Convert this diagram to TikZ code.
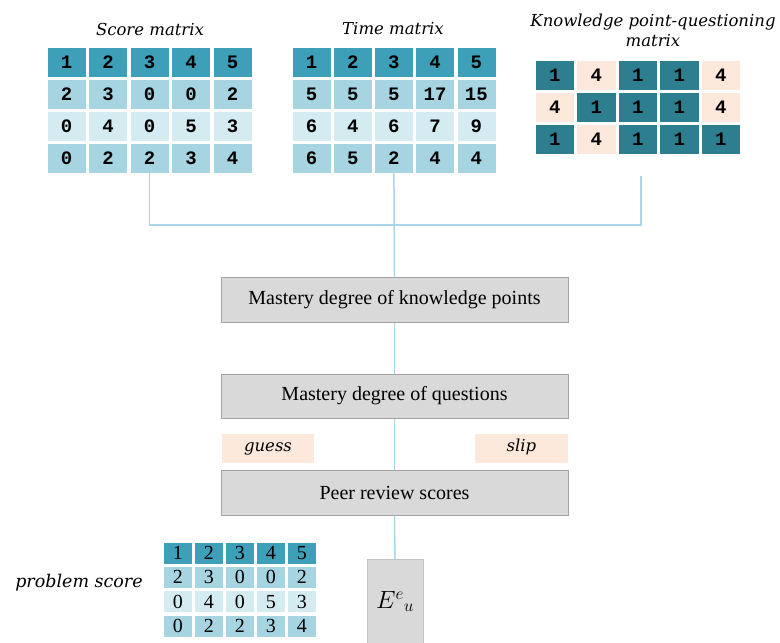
\documentclass[tikz,border=0pt]{standalone}
\usepackage{fontspec}
\setmainfont{Liberation Serif}
\newfontfamily\numfont{Liberation Mono}
\newfontfamily\capfont{DejaVu Serif}
\definecolor{hdr}{HTML}{3E9FB8}
\definecolor{rowA}{HTML}{A7D4E1}
\definecolor{rowB}{HTML}{D4EBF1}
\definecolor{kdark}{HTML}{2D7F8F}
\definecolor{peach}{HTML}{FCE9DC}
\definecolor{boxgray}{HTML}{D9D9D9}
\definecolor{boxedge}{HTML}{A3A3A3}
\definecolor{wire}{HTML}{A6D6E8}
\tikzset{
  cell/.style={inner sep=0pt, draw=white, line width=0.6pt},
  title/.style={font=\fontsize{16.5}{20}\selectfont\capfont\itshape, align=center},
  stage/.style={fill=boxgray, draw=boxedge, line width=1pt, minimum width=347pt,
                minimum height=45pt, inner sep=0pt, font=\fontsize{20}{23}\selectfont},
  tag/.style={fill=peach, minimum width=92pt, minimum height=29pt, inner sep=0pt,
              text height=0.72em, text depth=0.22em,
              font=\fontsize{16.5}{20}\selectfont\capfont\itshape},
  wireline/.style={draw=wire, line width=1.5pt}
}
% #1 prefix, #2 x0, #3 y0, #4 col pitch, #5 row pitch, #6 cell w, #7 cell h, #8 font, #9 rows (colour/{values})
\newcommand\gridtable[9]{%
  \foreach \fc/\vals [count=\r] in {#9} {
    \foreach \v [count=\c] in \vals {
      \pgfmathsetmacro\cx{#2+(\c-1)*#4+#6/2}
      \pgfmathsetmacro\cy{#3+(\r-1)*#5+#7/2}
      \node[cell, fill=\fc, minimum width=#6pt, minimum height=#7pt, font=#8]
        (#1-\r-\c) at (\cx,\cy) {\v};
    }
  }
}
% knowledge-point matrix: value 1 is dark, value 4 is peach
\newcommand\kptable[1]{%
  \foreach \vals [count=\r] in {#1} {
    \foreach \v [count=\c] in \vals {
      \pgfmathsetmacro\cx{535+(\c-1)*41.5+19.75}
      \pgfmathsetmacro\cy{60+(\r-1)*32+15}
      \ifnum\v=1 \def\kc{kdark}\else\def\kc{peach}\fi
      \node[cell, fill=\kc, minimum width=39.5pt, minimum height=30pt,
            font=\fontsize{19}{22}\selectfont\numfont\bfseries] (k-\r-\c) at (\cx,\cy) {\v};
    }
  }
}
\begin{document}
\begin{tikzpicture}[x=1pt,y=-1pt]
\useasboundingbox (0,0) rectangle (780,643);

% titles
\node[title] (tscore) at (150,29) {Score matrix};
\node[title] (ttime) at (393,29) {Time matrix};
\node[title] (tkp) at (653,30) {Knowledge point-questioning\\matrix};

% score matrix
\gridtable{s}{47}{47}{41.5}{32}{39}{30}{\fontsize{19}{22}\selectfont\numfont\bfseries}{
  hdr/{1,2,3,4,5}, rowA/{2,3,0,0,2}, rowB/{0,4,0,5,3}, rowA/{0,2,2,3,4}}
% time matrix
\gridtable{t}{292}{47}{41.2}{32}{39}{30}{\fontsize{19}{22}\selectfont\numfont\bfseries}{
  hdr/{1,2,3,4,5}, rowA/{5,5,5,17,15}, rowB/{6,4,6,7,9}, rowA/{6,5,2,4,4}}
% knowledge point-questioning matrix
\kptable{{1,4,1,1,4},{4,1,1,1,4},{1,4,1,1,1}}

% processing stages
\node[stage] (kpm) at (394.5,299.5) {Mastery degree of knowledge points};
\node[stage, minimum height=44pt] (qm) at (394.5,396) {Mastery degree of questions};
\node[tag] (guess) at (268,448.5) {guess};
\node[tag, minimum width=93pt] (slip) at (521.5,448.5) {slip};
\node[stage] (peer) at (394.5,492.5) {Peer review scores};

% problem score table and output
\node[font=\fontsize{17.5}{20}\selectfont\capfont\itshape] (plabel) at (79,583) {problem score};
\gridtable{p}{163}{542}{31}{24.3}{29.5}{22}{\fontsize{20}{22}\selectfont}{
  hdr/{1,2,3,4,5}, rowA/{2,3,0,0,2}, rowB/{0,4,0,5,3}, rowA/{0,2,2,3,4}}
\node[fill=boxgray, draw=boxgray!90!black, minimum width=56pt, minimum height=85pt,
      inner sep=0pt, font=\fontsize{23}{25}\selectfont] (eu) at (395,601.5)
      {$E^{e}{}_{u}$};

% connectors
\coordinate (kpfoot) at (641,176);
\coordinate (join) at (394.5,225);
\draw[wireline] (s-4-3.south) |- (kpfoot |- join) -- (kpfoot);
\draw[wireline] (t-4-3.south) -- (kpm.north);
\draw[wireline] (kpm.south) -- (qm.north);
\draw[wireline] (qm.south) -- (peer.north);
\draw[wireline] (peer.south) -- (eu.north);
\end{tikzpicture}
\end{document}
